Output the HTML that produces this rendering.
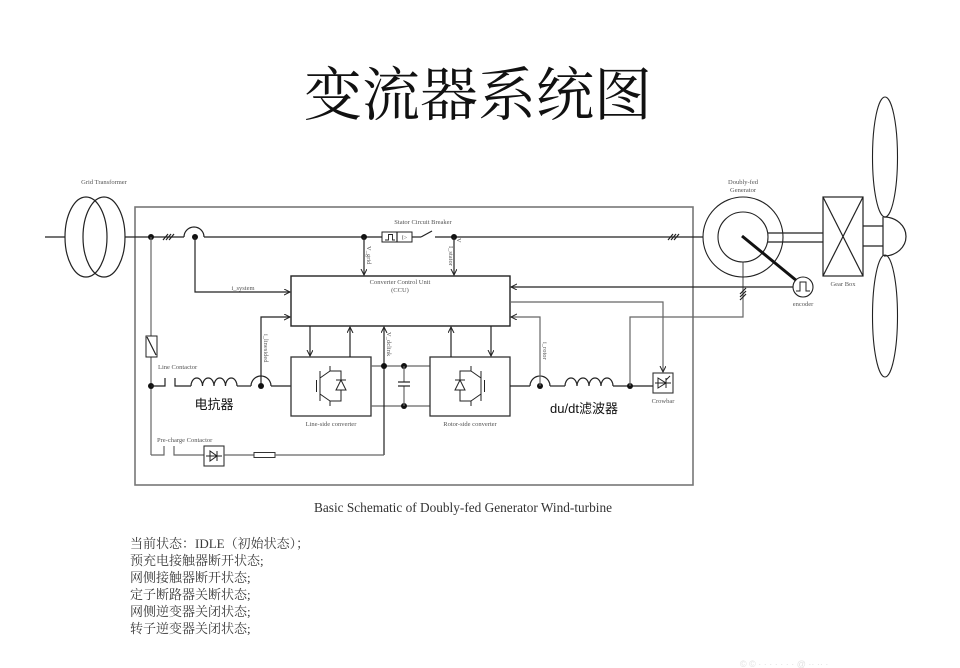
<!DOCTYPE html>
<html>
<head>
<meta charset="utf-8">
<style>
html,body{margin:0;padding:0;background:#fff;}
svg{display:block;}
.w{stroke:#222;stroke-width:1.2;fill:none;}
.g{stroke:#666;stroke-width:1.2;fill:none;}
.s{font-family:"Liberation Serif",serif;font-size:6.5px;fill:#555;}
</style>
</head>
<body>
<svg width="960" height="668" viewBox="0 0 960 668" xmlns="http://www.w3.org/2000/svg">
<defs>
<marker id="a" markerWidth="8" markerHeight="8" refX="6" refY="3" orient="auto" markerUnits="userSpaceOnUse">
<path d="M0,0 L6,3 L0,6" fill="none" stroke="#222" stroke-width="1"/>
</marker>
</defs>

<!-- Title -->
<text x="478" y="115" text-anchor="middle" font-family="'Noto Serif CJK SC','Liberation Serif',serif" font-size="58" fill="#111">变流器系统图</text>

<!-- Big box -->
<rect x="135" y="207" width="558" height="278" fill="none" stroke="#777" stroke-width="1.6"/>

<!-- Grid transformer -->
<text class="s" x="104" y="184" text-anchor="middle">Grid Transformer</text>
<line class="w" x1="45" y1="237" x2="65" y2="237"/>
<ellipse class="w" cx="86" cy="237" rx="21" ry="40"/>
<ellipse class="w" cx="104" cy="237" rx="21" ry="40"/>
<line class="w" x1="125" y1="237" x2="184" y2="237"/>
<circle cx="151" cy="237" r="3" fill="#111"/>
<g class="w"><line x1="163" y1="240" x2="168" y2="234"/><line x1="166" y1="240" x2="171" y2="234"/><line x1="169" y1="240" x2="174" y2="234"/></g>
<path class="w" d="M184,237 A10,10 0 0 1 204,237"/>
<circle cx="195" cy="237" r="3" fill="#111"/>
<line class="w" x1="204" y1="237" x2="382" y2="237"/>
<circle cx="364" cy="237" r="3" fill="#111"/>

<!-- Stator breaker -->
<text class="s" x="423" y="224" text-anchor="middle">Stator Circuit Breaker</text>
<rect x="382" y="232" width="30" height="10" fill="#fff" stroke="#222" stroke-width="1"/>
<line class="w" x1="397" y1="232" x2="397" y2="242"/>
<path d="M385,240 L388.5,240 L388.5,234.5 L392.5,234.5 L392.5,240 L395,240" fill="none" stroke="#222" stroke-width="0.9"/>
<text x="404.5" y="239.5" text-anchor="middle" font-family="'Liberation Serif',serif" font-size="6" fill="#444">I&gt;</text>
<line class="w" x1="412" y1="237" x2="421" y2="237"/>
<line class="w" x1="421" y1="237" x2="432" y2="231"/>
<line class="w" x1="435" y1="237" x2="703" y2="237"/>
<circle cx="454" cy="237" r="3" fill="#111"/>
<g class="w"><line x1="668" y1="240" x2="673" y2="234"/><line x1="671" y1="240" x2="676" y2="234"/><line x1="674" y1="240" x2="679" y2="234"/></g>

<!-- Vgrid / Istator -->
<line class="w" x1="364" y1="237" x2="364" y2="275" marker-end="url(#a)"/>
<text class="s" transform="translate(367,246) rotate(90)" font-size="5.5">V_grid</text>
<line class="w" x1="454" y1="237" x2="454" y2="275" marker-end="url(#a)"/>
<text class="s" transform="translate(449,246) rotate(90)" font-size="5.5">I_stator</text>
<text class="s" transform="translate(457,238) rotate(90)" font-size="5.5">V</text>

<!-- CCU -->
<rect x="291" y="276" width="219" height="50" fill="none" stroke="#222" stroke-width="1.4"/>
<text class="s" x="400" y="284" text-anchor="middle" font-size="7">Converter Control Unit</text>
<text class="s" x="400" y="292" text-anchor="middle" font-size="7">(CCU)</text>

<!-- i_system -->
<path class="w" d="M195,237 L195,292 L290,292" marker-end="url(#a)"/>
<text class="s" x="243" y="290" text-anchor="middle">i_system</text>

<!-- i_line -->
<path class="w" d="M261,386 L261,317 L290,317" marker-end="url(#a)"/>
<text class="s" transform="translate(264,334) rotate(90)" font-size="5.5">i_linesided</text>

<!-- left vertical -->
<line class="g" x1="151" y1="237" x2="151" y2="455"/>
<rect x="146" y="336" width="11" height="21" fill="#fff" stroke="#222" stroke-width="1"/>
<line class="w" x1="147" y1="337" x2="156" y2="355"/>
<circle cx="151" cy="386" r="3" fill="#111"/>

<!-- Line contactor -->
<text class="s" x="158" y="369">Line Contactor</text>
<path class="w" d="M151,386 L165,386 L165,378"/>
<path class="w" d="M175,378 L175,386 L191,386"/>
<path class="w" d="M191,386 a5.75,8 0 0 1 11.5,0 a5.75,8 0 0 1 11.5,0 a5.75,8 0 0 1 11.5,0 a5.75,8 0 0 1 11.5,0"/>
<line class="w" x1="237" y1="386" x2="251" y2="386"/>
<path class="w" d="M251,386 A10,10 0 0 1 271,386"/>
<circle cx="261" cy="386" r="3" fill="#111"/>
<line class="w" x1="271" y1="386" x2="291" y2="386"/>
<text x="214" y="409" text-anchor="middle" font-family="'Noto Sans CJK SC','WenQuanYi Zen Hei',sans-serif" font-size="13" fill="#111">电抗器</text>

<!-- Line-side converter -->
<rect x="291" y="357" width="80" height="59" fill="none" stroke="#333" stroke-width="1.3"/>
<text class="s" x="331" y="426" text-anchor="middle">Line-side converter</text>
<g stroke="#222" stroke-width="1" fill="none">
<line x1="316.5" y1="380" x2="316.5" y2="392"/>
<line x1="320" y1="371" x2="320" y2="401"/>
<line x1="320" y1="378" x2="330" y2="371"/>
<line x1="330" y1="371" x2="330" y2="366"/>
<line x1="320" y1="394" x2="330" y2="401"/>
<line x1="330" y1="401" x2="330" y2="406"/>
<path d="M330,371 L341,371 L341,401 L330,401"/>
<path d="M341,380 L336,390 L346,390 Z" fill="#fff"/>
<line x1="336" y1="380" x2="346" y2="380"/>
</g>
<line class="w" x1="310" y1="326" x2="310" y2="356" marker-end="url(#a)"/>
<line class="w" x1="350" y1="357" x2="350" y2="327" marker-end="url(#a)"/>

<!-- DC link -->
<line class="g" x1="371" y1="366" x2="430" y2="366"/>
<line class="g" x1="371" y1="406" x2="430" y2="406"/>
<line class="w" x1="384" y1="455" x2="384" y2="327" marker-end="url(#a)"/>
<text class="s" transform="translate(387,332) rotate(90)" font-size="5.5">V_dclink</text>
<circle cx="384" cy="366" r="3" fill="#111"/>
<circle cx="404" cy="366" r="3" fill="#111"/>
<circle cx="404" cy="406" r="3" fill="#111"/>
<line class="g" x1="404" y1="366" x2="404" y2="382"/>
<line class="g" x1="404" y1="386" x2="404" y2="406"/>
<line class="w" x1="398" y1="382" x2="410" y2="382"/>
<line class="w" x1="398" y1="386" x2="410" y2="386"/>

<!-- Rotor-side converter -->
<rect x="430" y="357" width="80" height="59" fill="none" stroke="#333" stroke-width="1.3"/>
<text class="s" x="470" y="426" text-anchor="middle">Rotor-side converter</text>
<g stroke="#222" stroke-width="1" fill="none">
<line x1="484.5" y1="380" x2="484.5" y2="392"/>
<line x1="481" y1="371" x2="481" y2="401"/>
<line x1="481" y1="378" x2="471" y2="371"/>
<line x1="471" y1="371" x2="471" y2="366"/>
<line x1="481" y1="394" x2="471" y2="401"/>
<line x1="471" y1="401" x2="471" y2="406"/>
<path d="M471,371 L460,371 L460,401 L471,401"/>
<path d="M460,380 L455,390 L465,390 Z" fill="#fff"/>
<line x1="455" y1="380" x2="465" y2="380"/>
</g>
<line class="w" x1="451" y1="357" x2="451" y2="327" marker-end="url(#a)"/>
<line class="w" x1="491" y1="326" x2="491" y2="356" marker-end="url(#a)"/>

<!-- Rotor output -->
<line class="w" x1="510" y1="386" x2="530" y2="386"/>
<path class="w" d="M530,386 A10,10 0 0 1 550,386"/>
<circle cx="540" cy="386" r="3" fill="#111"/>
<line class="w" x1="550" y1="386" x2="565" y2="386"/>
<path class="w" d="M565,386 a6,8 0 0 1 12,0 a6,8 0 0 1 12,0 a6,8 0 0 1 12,0 a6,8 0 0 1 12,0"/>
<line class="w" x1="613" y1="386" x2="653" y2="386"/>
<circle cx="630" cy="386" r="3" fill="#111"/>
<path class="g" d="M540,386 L540,317 L511,317" marker-end="url(#a)"/>
<text class="s" transform="translate(543,342) rotate(90)" font-size="5.5">i_rotor</text>
<text x="584" y="413" text-anchor="middle" font-family="'Liberation Sans','Noto Sans CJK SC',sans-serif" font-size="13" fill="#111">du/dt滤波器</text>

<!-- Rotor to generator -->
<path class="g" d="M630,386 L630,317 L743,317 L743,262"/>
<g class="w"><line x1="740" y1="294" x2="746" y2="288"/><line x1="740" y1="297" x2="746" y2="291"/><line x1="740" y1="300" x2="746" y2="294"/></g>

<!-- Crowbar -->
<path class="g" d="M510,302 L663,302 L663,372" marker-end="url(#a)"/>
<rect x="653" y="373" width="20" height="20" fill="#fff" stroke="#333" stroke-width="1.1"/>
<g stroke="#222" stroke-width="1" fill="none">
<line x1="655" y1="383" x2="671" y2="383"/>
<path d="M658,378 L658,388 L666,383 Z"/>
<line x1="666" y1="378" x2="666" y2="388"/>
<line x1="666" y1="380" x2="670" y2="376"/>
</g>
<text class="s" x="663" y="403" text-anchor="middle">Crowbar</text>

<!-- Encoder line -->
<line class="w" x1="793" y1="287" x2="511" y2="287" marker-end="url(#a)"/>

<!-- Generator -->
<text class="s" x="743" y="184" text-anchor="middle">Doubly-fed</text>
<text class="s" x="743" y="192" text-anchor="middle">Generator</text>
<circle cx="743" cy="237" r="40" fill="none" stroke="#222" stroke-width="1.1"/>
<circle cx="743" cy="237" r="25" fill="none" stroke="#222" stroke-width="1.1"/>
<line class="w" x1="768" y1="233" x2="823" y2="233"/>
<line class="w" x1="768" y1="242" x2="823" y2="242"/>
<line x1="742" y1="236" x2="797" y2="281" stroke="#111" stroke-width="3"/>
<circle cx="803" cy="287" r="10" fill="#fff" stroke="#222" stroke-width="1.1"/>
<path d="M796,291 L800,291 L800,282 L806,282 L806,291 L810,291" fill="none" stroke="#222" stroke-width="1"/>
<text class="s" x="803" y="306" text-anchor="middle">encoder</text>

<!-- Gear box -->
<rect x="823" y="197" width="40" height="79" fill="none" stroke="#222" stroke-width="1.2"/>
<line class="w" x1="823" y1="197" x2="863" y2="276"/>
<line class="w" x1="863" y1="197" x2="823" y2="276"/>
<text class="s" x="843" y="286" text-anchor="middle">Gear Box</text>
<line class="w" x1="863" y1="226" x2="883" y2="226"/>
<line class="w" x1="863" y1="246" x2="883" y2="246"/>

<!-- Turbine -->
<path class="w" d="M884,217 A22,19.5 0 0 1 884,256"/>
<line class="w" x1="883" y1="217" x2="883" y2="256"/>
<ellipse cx="885" cy="157" rx="12.5" ry="60" fill="none" stroke="#222" stroke-width="1.1"/>
<ellipse cx="885" cy="316" rx="12.5" ry="61" fill="none" stroke="#222" stroke-width="1.1"/>

<!-- Pre-charge -->
<text class="s" x="157" y="442">Pre-charge Contactor</text>
<path class="g" d="M151,455 L164,455 L164,446"/>
<path class="g" d="M174,446 L174,455 L204,455"/>
<rect x="204" y="446" width="20" height="20" fill="#fff" stroke="#333" stroke-width="1.1"/>
<g stroke="#222" stroke-width="1" fill="none">
<line x1="206" y1="456" x2="222" y2="456"/>
<path d="M210,451 L210,461 L217,456 Z"/>
<line x1="217" y1="451" x2="217" y2="461"/>
</g>
<line class="g" x1="224" y1="455" x2="254" y2="455"/>
<rect x="254" y="452.5" width="21" height="5" fill="#fff" stroke="#333" stroke-width="1"/>
<line class="g" x1="275" y1="455" x2="384" y2="455"/>

<!-- Caption -->
<text x="314" y="512" font-family="'Liberation Serif',serif" font-size="14" fill="#333" textLength="298" lengthAdjust="spacingAndGlyphs">Basic Schematic of Doubly-fed Generator Wind-turbine</text>

<!-- Status text -->
<g font-family="'Liberation Serif','Noto Serif CJK SC',serif" font-size="13" fill="#3a3a3a">
<text x="130" y="548">当前状态：IDLE（初始状态）；</text>
<text x="130" y="565">预充电接触器断开状态;</text>
<text x="130" y="582">网侧接触器断开状态;</text>
<text x="130" y="599">定子断路器关断状态;</text>
<text x="130" y="616">网侧逆变器关闭状态;</text>
<text x="130" y="633">转子逆变器关闭状态;</text>
</g>

<!-- faint watermark -->
<text x="740" y="667" font-family="'Liberation Sans','Noto Sans CJK SC',sans-serif" font-size="9" fill="#e2e2e2">© ©     ·  ·    ·  ·   ·   ·  ·  @ ·· ·· ·</text>
</svg>
</body>
</html>
